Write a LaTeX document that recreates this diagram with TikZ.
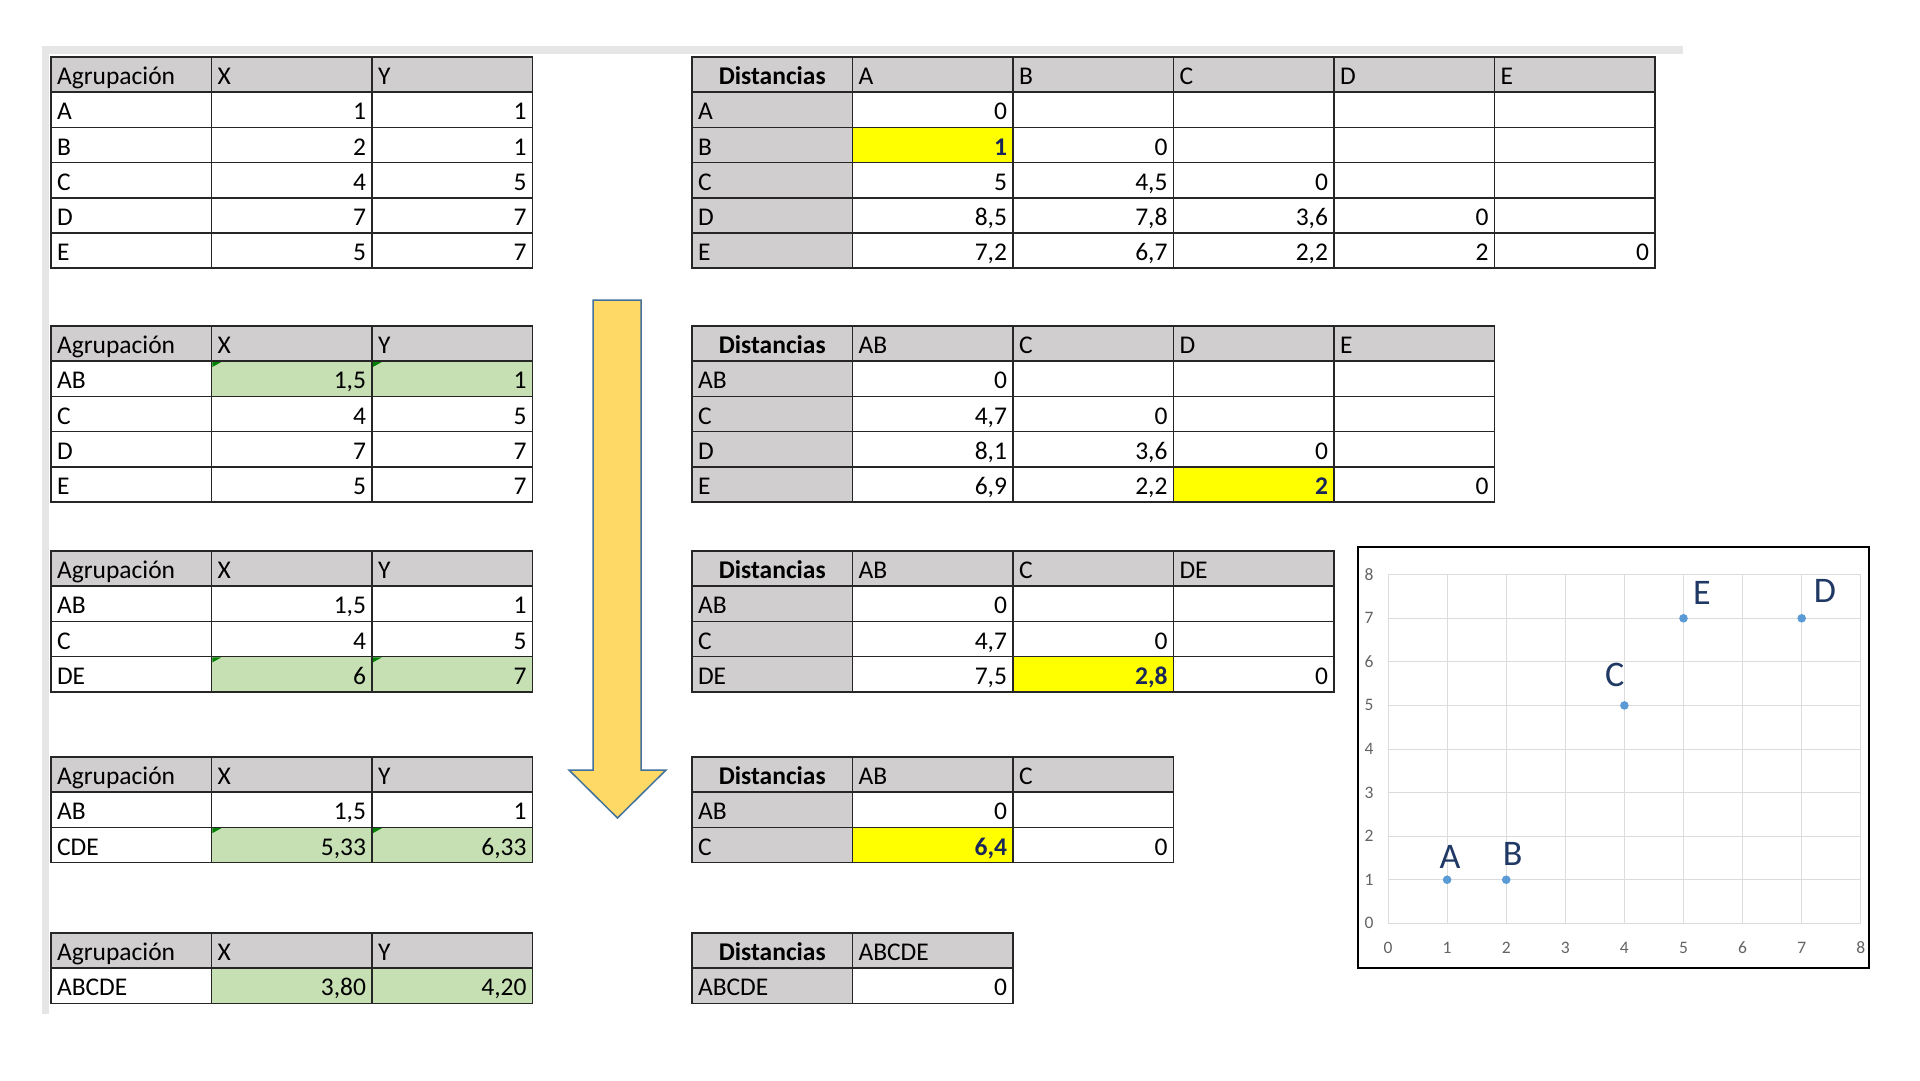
\documentclass[tikz,border=0pt]{standalone}
\usepackage{fontspec}
\setmainfont{Carlito}
\definecolor{linec}{RGB}{38,38,38}
\definecolor{hdrgray}{RGB}{208,206,206}
\definecolor{greenfill}{RGB}{198,224,180}
\definecolor{yellowfill}{RGB}{255,255,0}
\definecolor{navytext}{RGB}{25,38,90}
\definecolor{errgreen}{RGB}{0,128,0}
\definecolor{framegray}{RGB}{230,230,230}
\definecolor{arrfill}{RGB}{255,217,102}
\definecolor{arrline}{RGB}{65,113,156}
\definecolor{gridc}{RGB}{220,220,220}
\definecolor{tickc}{RGB}{100,100,100}
\definecolor{ptc}{RGB}{91,155,213}
\definecolor{labc}{RGB}{31,56,100}
\newcommand{\tabfont}{\fontsize{25.5pt}{30pt}\selectfont}
\newcommand{\trow}[3]{%
  \foreach \s/\t [count=\c from 0] in {#3} {%
    \node[cell,\s] (#1-#2-\c) at ({\tx+\c*\cw},{\ty+#2*\rh}) {\t};}}
\newcommand{\etri}[1]{\fill[errgreen] ([xshift=0.8pt,yshift=-0.8pt]#1.north west) -- ++(9,0) -- ++(-9,5) -- cycle;}
\begin{document}
\begin{tikzpicture}[x=1pt,y=-1pt,
  cell/.style={anchor=north west, draw=linec, line width=1.6pt, outer sep=0pt,
    inner xsep=6pt, inner ysep=0pt, text width=148.5pt, text height=27.7pt,
    text depth=7.5pt, font=\tabfont, fill=white, align=right},
  hd/.style={fill=hdrgray, align=left},
  lb/.style={align=left},
  dl/.style={fill=hdrgray, align=left},
  dh/.style={fill=hdrgray, align=center, font=\tabfont\bfseries},
  nm/.style={},
  gc/.style={fill=greenfill},
  yc/.style={fill=yellowfill, text=navytext, font=\tabfont\bfseries},
  gridline/.style={gridc, line width=1pt},
  tick/.style={font=\fontsize{17.5pt}{20pt}\selectfont, text=tickc, inner sep=0pt},
  pt/.style={circle, fill=ptc, minimum size=8.6pt, inner sep=0pt},
  ptlab/.style={anchor=base, font=\fontsize{36pt}{40pt}\selectfont, text=labc, inner sep=0pt},
]
\useasboundingbox (0,0) rectangle (1920,1080);
\fill[white] (0,0) rectangle (1920,1080);
% sheet edge
\fill[framegray] (42,46) rectangle (1683,54);
\fill[framegray] (42,46) rectangle (49,1014);
\def\cw{160.5}\def\rh{35.2}
% ---- step 1
\def\tx{51}\def\ty{57}
\trow{a1}{0}{hd/Agrupación,hd/X,hd/Y}
\trow{a1}{1}{lb/A,nm/1,nm/1}
\trow{a1}{2}{lb/B,nm/2,nm/1}
\trow{a1}{3}{lb/C,nm/4,nm/5}
\trow{a1}{4}{lb/D,nm/7,nm/7}
\trow{a1}{5}{lb/E,nm/5,nm/7}
\def\tx{692}
\trow{d1}{0}{dh/Distancias,hd/A,hd/B,hd/C,hd/D,hd/E}
\trow{d1}{1}{dl/A,nm/0,nm/{},nm/{},nm/{},nm/{}}
\trow{d1}{2}{dl/B,yc/1,nm/0,nm/{},nm/{},nm/{}}
\trow{d1}{3}{dl/C,nm/5,nm/{4,5},nm/0,nm/{},nm/{}}
\trow{d1}{4}{dl/D,nm/{8,5},nm/{7,8},nm/{3,6},nm/0,nm/{}}
\trow{d1}{5}{dl/E,nm/{7,2},nm/{6,7},nm/{2,2},nm/2,nm/0}
% ---- step 2
\def\tx{51}\def\ty{326}
\trow{a2}{0}{hd/Agrupación,hd/X,hd/Y}
\trow{a2}{1}{lb/AB,gc/{1,5},gc/1}
\trow{a2}{2}{lb/C,nm/4,nm/5}
\trow{a2}{3}{lb/D,nm/7,nm/7}
\trow{a2}{4}{lb/E,nm/5,nm/7}
\def\tx{692}
\trow{d2}{0}{dh/Distancias,hd/AB,hd/C,hd/D,hd/E}
\trow{d2}{1}{dl/AB,nm/0,nm/{},nm/{},nm/{}}
\trow{d2}{2}{dl/C,nm/{4,7},nm/0,nm/{},nm/{}}
\trow{d2}{3}{dl/D,nm/{8,1},nm/{3,6},nm/0,nm/{}}
\trow{d2}{4}{dl/E,nm/{6,9},nm/{2,2},yc/2,nm/0}
% ---- step 3
\def\tx{51}\def\ty{551}
\trow{a3}{0}{hd/Agrupación,hd/X,hd/Y}
\trow{a3}{1}{lb/AB,nm/{1,5},nm/1}
\trow{a3}{2}{lb/C,nm/4,nm/5}
\trow{a3}{3}{lb/DE,gc/6,gc/7}
\def\tx{692}
\trow{d3}{0}{dh/Distancias,hd/AB,hd/C,hd/DE}
\trow{d3}{1}{dl/AB,nm/0,nm/{},nm/{}}
\trow{d3}{2}{dl/C,nm/{4,7},nm/0,nm/{}}
\trow{d3}{3}{dl/DE,nm/{7,5},yc/{2,8},nm/0}
% ---- step 4
\def\tx{51}\def\ty{757}
\trow{a4}{0}{hd/Agrupación,hd/X,hd/Y}
\trow{a4}{1}{lb/AB,nm/{1,5},nm/1}
\trow{a4}{2}{lb/CDE,gc/{5,33},gc/{6,33}}
\def\tx{692}
\trow{d4}{0}{dh/Distancias,hd/AB,hd/C}
\trow{d4}{1}{dl/AB,nm/0,nm/{}}
\trow{d4}{2}{dl/C,yc/{6,4},nm/0}
% ---- step 5
\def\tx{51}\def\ty{933}
\trow{a5}{0}{hd/Agrupación,hd/X,hd/Y}
\trow{a5}{1}{lb/ABCDE,gc/{3,80},gc/{4,20}}
\def\tx{692}
\trow{d5}{0}{dh/Distancias,hd/ABCDE}
\trow{d5}{1}{dl/ABCDE,nm/0}
% error indicators
\etri{a2-1-1}\etri{a2-1-2}\etri{a3-3-1}\etri{a3-3-2}\etri{a4-2-1}\etri{a4-2-2}
% ---- arrow
\draw[fill=arrfill, draw=arrline, line width=1.5pt, line join=miter]
  (593,300) -- (641,300) -- (641,770) -- (666,770) -- (617.5,818) -- (569,770) -- (593,770) -- cycle;
% ---- chart
\def\gx{1388}\def\ux{59.1}\def\gy{923.3}\def\uy{43.575}
\foreach \i in {0,...,8} {
  \draw[gridline] ({\gx+\i*\ux},574.7) -- ({\gx+\i*\ux},\gy);
  \draw[gridline] (\gx,{\gy-\i*\uy}) -- ({\gx+8*\ux},{\gy-\i*\uy});
  \node[tick] (yt\i) at (1369,{\gy-\i*\uy}) {\i};
  \node[tick] (xt\i) at ({\gx+\i*\ux},947.7) {\i};
}
\draw[black, line width=2.6pt] (1358,547) rectangle (1869,968);
\node[pt] (pA) at ({\gx+1*\ux},{\gy-1*\uy}) {};
\node[pt] (pB) at ({\gx+2*\ux},{\gy-1*\uy}) {};
\node[pt] (pC) at ({\gx+4*\ux},{\gy-5*\uy}) {};
\node[pt] (pE) at ({\gx+5*\ux},{\gy-7*\uy}) {};
\node[pt] (pD) at ({\gx+7*\ux},{\gy-7*\uy}) {};
\node[ptlab] (lA) at (1450,868) {A};
\node[ptlab] (lB) at (1512.6,865) {B};
\node[ptlab] (lC) at (1614.7,686.7) {C};
\node[ptlab] (lE) at (1702,604) {E};
\node[ptlab] (lD) at (1825,602) {D};
\end{tikzpicture}
\end{document}
